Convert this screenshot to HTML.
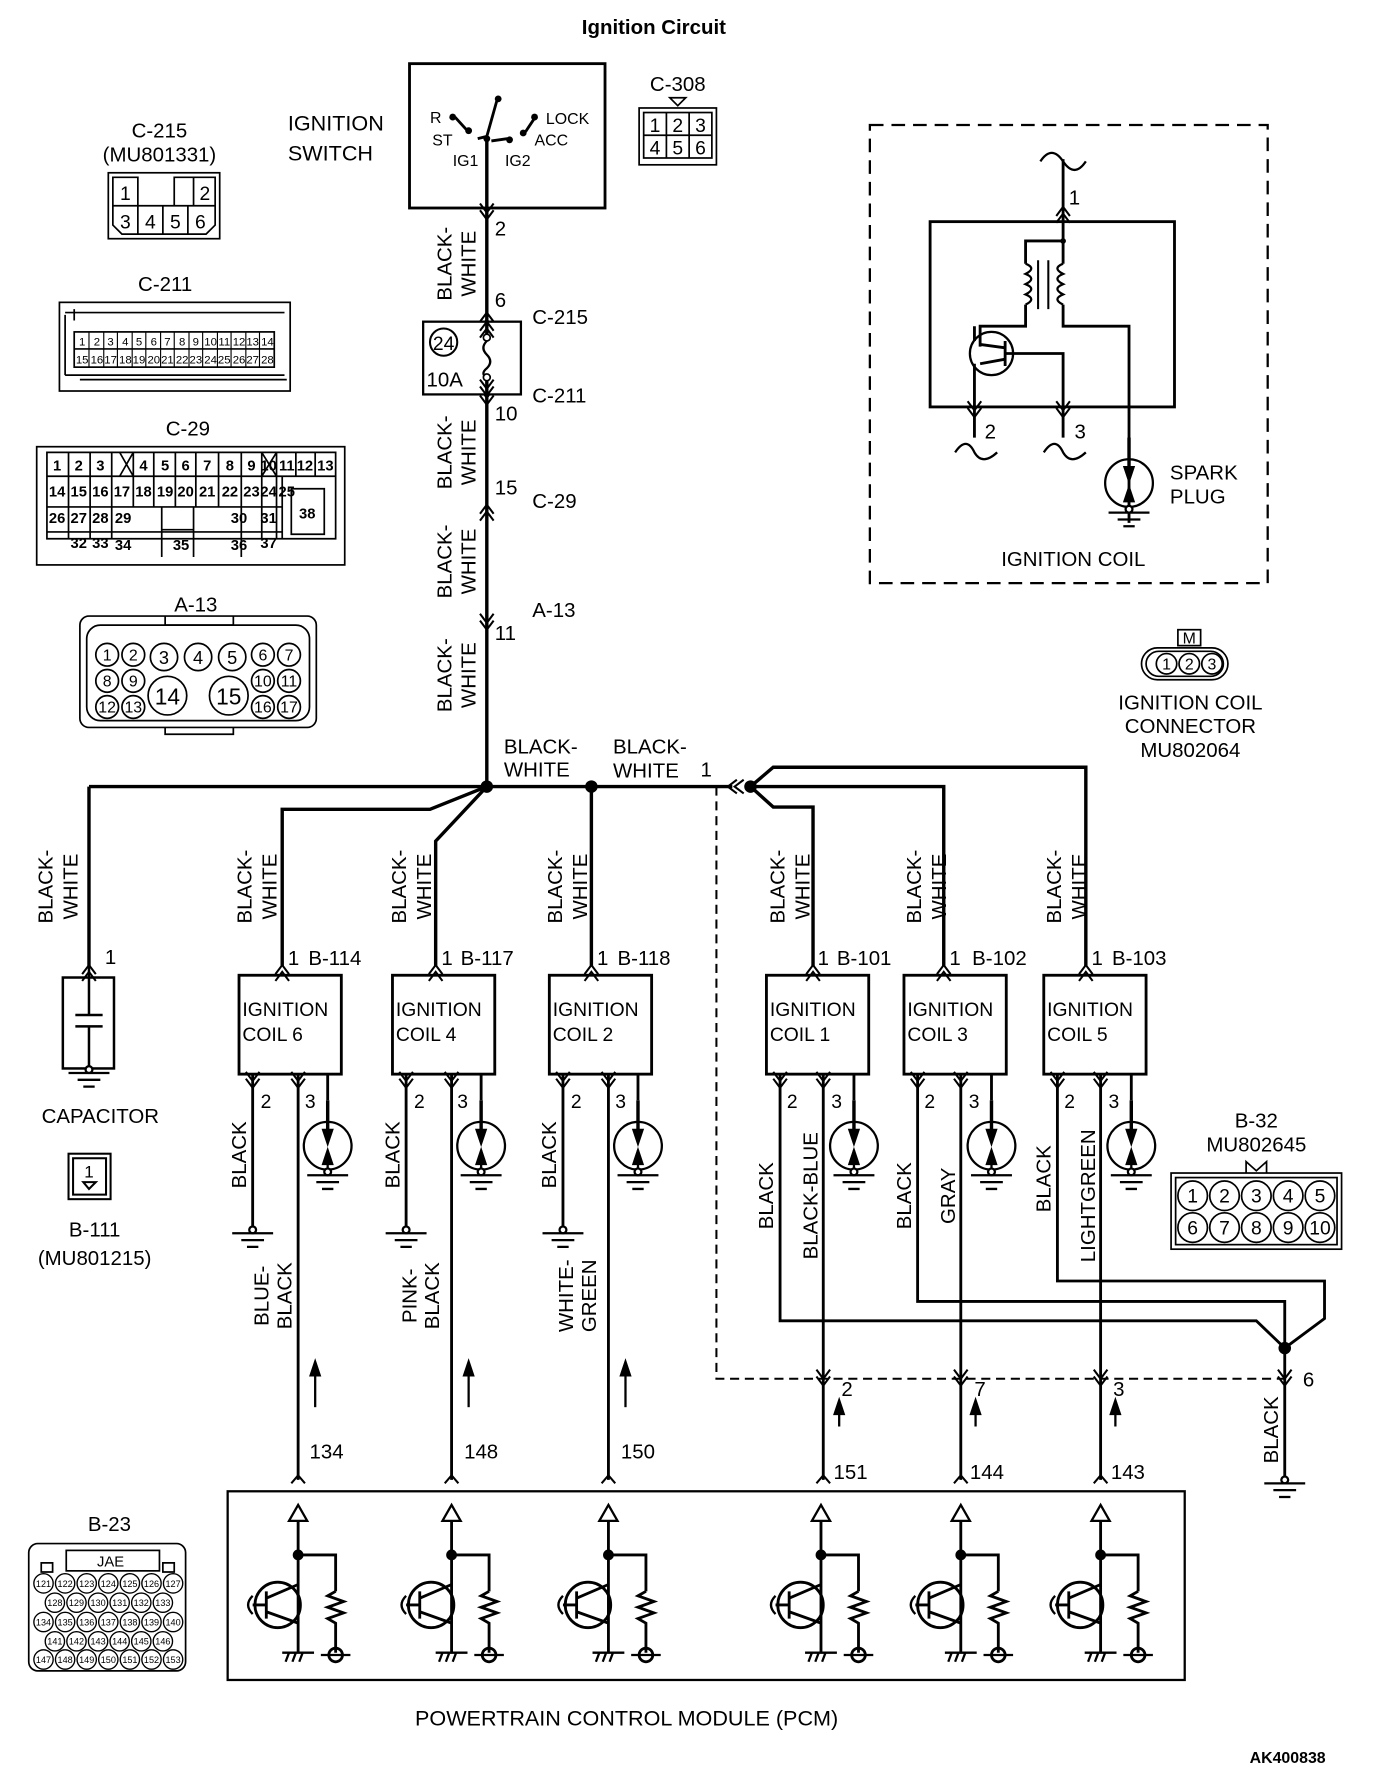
<!DOCTYPE html>
<html><head><meta charset="utf-8"><style>
html,body{margin:0;padding:0;background:#fff;}
svg{display:block;}
text{font-family:"Liberation Sans",sans-serif;fill:#000;}
</style></head><body>
<svg width="1376" height="1780" viewBox="0 0 1210 1566" xmlns="http://www.w3.org/2000/svg">
<defs>
<g id="sp" fill="none" stroke="#000" stroke-width="2">
<circle cx="0" cy="0" r="21"/>
<path d="M0,-40 V-5" stroke-width="3"/>
<path d="M-4,-14 L0,-2 L4,-14 Z" fill="#000"/>
<path d="M0,4 V20"/><path d="M-4,16 L0,4 L4,16 Z" fill="#000"/>
<circle cx="0" cy="23" r="3" fill="#fff"/>
<path d="M-18,26 H18 M-10,32 H10 M-5,38 H5"/>
</g>
<g id="tr" fill="none" stroke="#000" stroke-width="2.5">
<path d="M-8,14 L0,0 L8,14 Z" stroke-width="2"/>
<path d="M0,14 V130"/>
<circle cx="0" cy="44" r="3.5" fill="#000"/>
<path d="M0,44 H33 V76"/>
<path d="M33,76 l-7,4 l14,5 l-14,5 l14,5 l-14,5 l7,4 V130"/>
<circle cx="33" cy="132" r="6"/>
<path d="M20,132 H46" stroke-width="2"/>
<path d="M-14,130 H14 M-8,130 l-3,8 M-2,130 l-3,8 M4,130 l-3,8" stroke-width="2"/>
<circle cx="-18" cy="88" r="20"/>
<path d="M-28,76 V100 M-40,88 H-28 M-28,82 L0,70 M-28,94 L0,104"/>
<path d="M-40,80 q-8,8 0,16" stroke-width="2"/>
</g>
<g id="cv" fill="none" stroke="#000" stroke-width="1.8"><path d="M-6,-5 L0,3 L6,-5 M-6,1 L0,9 L6,1"/></g>
<g id="cu" fill="none" stroke="#000" stroke-width="1.8"><path d="M-6,5 L0,-3 L6,5 M-6,11 L0,3 L6,11"/></g>
<g id="gnd" fill="none" stroke="#000" stroke-width="2"><circle cx="0" cy="0" r="3" fill="#fff"/><path d="M-18,3 H18 M-10,9 H10 M-5,15 H5"/></g>
</defs>

<text x="575" y="30" font-size="18" font-weight="bold" text-anchor="middle">Ignition Circuit</text>

<!-- Ignition switch -->
<g fill="none" stroke="#000" stroke-width="2.5">
<rect x="360" y="56" width="172" height="127"/>
<path d="M428,120 V692" stroke-width="3"/>
<path d="M428,120 L437,88" stroke-width="2.5"/>
<path d="M400,103 L410,114 M420,122 L428,120 M432,124 L446,122 M470,104 L462,116" stroke-width="2.5"/>
</g>
<g fill="#000"><circle cx="438" cy="87" r="3"/><circle cx="398" cy="103" r="3"/><circle cx="412" cy="115" r="3"/><circle cx="428" cy="122" r="3"/><circle cx="448" cy="123" r="3"/><circle cx="460" cy="117" r="3"/><circle cx="470" cy="103" r="3"/></g>
<g font-size="14"><text x="378" y="108">R</text><text x="380" y="128">ST</text><text x="398" y="146">IG1</text><text x="444" y="146">IG2</text><text x="480" y="109">LOCK</text><text x="470" y="128">ACC</text></g>
<g font-size="19"><text x="253" y="115">IGNITION</text><text x="253" y="141">SWITCH</text></g>

<!-- C-308 -->
<text x="596" y="80" font-size="18" text-anchor="middle">C-308</text>
<path d="M589,86 H603 L596,93 Z" fill="none" stroke="#000" stroke-width="1.5"/>
<g fill="none" stroke="#000" stroke-width="1.5"><rect x="562" y="95" width="68" height="50"/><rect x="566" y="99" width="60" height="40"/><path d="M566,119 H626 M586,99 V139 M606,99 V139"/></g>
<g font-size="17" text-anchor="middle"><text x="576" y="116">1</text><text x="596" y="116">2</text><text x="616" y="116">3</text><text x="576" y="136">4</text><text x="596" y="136">5</text><text x="616" y="136">6</text></g>

<!-- C-215 connector -->
<g font-size="18" text-anchor="middle"><text x="140" y="121">C-215</text><text x="140" y="142">(MU801331)</text></g>
<g fill="none" stroke="#000" stroke-width="1.5"><rect x="95" y="152" width="98" height="58"/>
<path d="M99,156 H121 V181 H99 Z M153,156 H170 V181 H153 Z M170,156 H189 V181 H170 M99,181 V198 L107,206 H181 L189,198 V181 Z M121,181 V206 M143,181 V206 M165,181 V206"/></g>
<g font-size="17" text-anchor="middle"><text x="110" y="176">1</text><text x="180" y="176">2</text><text x="110" y="201">3</text><text x="132" y="201">4</text><text x="154" y="201">5</text><text x="176" y="201">6</text></g>

<!-- C-211 -->
<text x="145" y="256" font-size="18" text-anchor="middle">C-211</text>
<g fill="none" stroke="#000" stroke-width="1.5"><rect x="52" y="266" width="203" height="78"/>
<path d="M57,275 H250 M57,277 V330 M57,330 H250 M65,272 V282 M70,334 H252"/>
<rect x="65" y="292" width="176" height="31"/><path d="M65,307 H241"/></g>
<g font-size="10" text-anchor="middle">
<text x="72" y="304">1</text><text x="85" y="304">2</text><text x="97" y="304">3</text><text x="110" y="304">4</text><text x="122" y="304">5</text><text x="135" y="304">6</text><text x="147" y="304">7</text><text x="160" y="304">8</text><text x="172" y="304">9</text><text x="185" y="304">10</text><text x="197" y="304">11</text><text x="210" y="304">12</text><text x="222" y="304">13</text><text x="235" y="304">14</text>
<text x="72" y="320">15</text><text x="85" y="320">16</text><text x="97" y="320">17</text><text x="110" y="320">18</text><text x="122" y="320">19</text><text x="135" y="320">20</text><text x="147" y="320">21</text><text x="160" y="320">22</text><text x="172" y="320">23</text><text x="185" y="320">24</text><text x="197" y="320">25</text><text x="210" y="320">26</text><text x="222" y="320">27</text><text x="235" y="320">28</text></g>
<g stroke="#000" stroke-width="1"><path d="M78,292 V323 M91,292 V323 M103,292 V323 M116,292 V323 M128,292 V323 M141,292 V323 M153,292 V323 M166,292 V323 M178,292 V323 M191,292 V323 M203,292 V323 M216,292 V323 M228,292 V323"/></g>

<!-- C-29 -->
<text x="165" y="383" font-size="18" text-anchor="middle">C-29</text>
<g fill="none" stroke="#000" stroke-width="1.5"><rect x="32" y="393" width="271" height="104"/>
<path d="M41,398 H295 V474 H41 Z M41,419 H295 M41,446 H248 M41,468 H248 M60,398 V474 M79,398 V474 M98,398 V474 M105,398 L117,419 M117,398 L105,419 M230,398 L243,419 M243,398 L230,419 M117,398 V446 M135,398 V419 M154,398 V419 M172,398 V419 M192,398 V419 M212,398 V419 M230,398 V474 M243,398 V474 M260,398 V419 M277,398 V419 M135,419 V446 M154,419 V446 M172,419 V446 M192,419 V446 M212,419 V446 M142,446 V490 M170,446 V490 M212,446 V490 M142,466 H170 M248,419 V474 M256,430 H285 V470 H256 Z"/></g>
<g font-size="13" font-weight="bold" text-anchor="middle">
<text x="50" y="414">1</text><text x="69" y="414">2</text><text x="88" y="414">3</text><text x="126" y="414">4</text><text x="145" y="414">5</text><text x="163" y="414">6</text><text x="182" y="414">7</text><text x="202" y="414">8</text><text x="221" y="414">9</text><text x="236" y="414">10</text><text x="252" y="414">11</text><text x="268" y="414">12</text><text x="286" y="414">13</text>
<text x="50" y="437">14</text><text x="69" y="437">15</text><text x="88" y="437">16</text><text x="107" y="437">17</text><text x="126" y="437">18</text><text x="145" y="437">19</text><text x="163" y="437">20</text><text x="182" y="437">21</text><text x="202" y="437">22</text><text x="221" y="437">23</text><text x="236" y="437">24</text><text x="240" y="437"></text>
<text x="50" y="460">26</text><text x="69" y="460">27</text><text x="88" y="460">28</text><text x="108" y="460">29</text><text x="210" y="460">30</text><text x="236" y="460">31</text><text x="270" y="456">38</text>
<text x="69" y="482">32</text><text x="88" y="482">33</text><text x="108" y="484">34</text><text x="159" y="484">35</text><text x="210" y="484">36</text><text x="236" y="482">37</text></g>
<text x="252" y="437" font-size="13" font-weight="bold" text-anchor="middle">25</text>

<!-- A-13 -->
<text x="172" y="538" font-size="18" text-anchor="middle">A-13</text>
<g fill="none" stroke="#000" stroke-width="1.5"><rect x="70" y="542" width="208" height="98" rx="8"/><rect x="76" y="550" width="196" height="84" rx="12"/><path d="M145,542 V550 H205 V542 M145,640 V646 H205 V640"/>
<circle cx="94" cy="576" r="10"/><circle cx="117" cy="576" r="10"/><circle cx="144" cy="578" r="12"/><circle cx="174" cy="578" r="12"/><circle cx="204" cy="578" r="12"/><circle cx="231" cy="576" r="10"/><circle cx="254" cy="576" r="10"/>
<circle cx="94" cy="599" r="10"/><circle cx="117" cy="599" r="10"/><circle cx="231" cy="599" r="10"/><circle cx="254" cy="599" r="10"/>
<circle cx="94" cy="622" r="10"/><circle cx="117" cy="622" r="10"/><circle cx="147" cy="612" r="17"/><circle cx="201" cy="612" r="17"/><circle cx="231" cy="622" r="10"/><circle cx="254" cy="622" r="10"/></g>
<g font-size="14" text-anchor="middle"><text x="94" y="581">1</text><text x="117" y="581">2</text><text x="144" y="584" font-size="16">3</text><text x="174" y="584" font-size="16">4</text><text x="204" y="584" font-size="16">5</text><text x="231" y="581">6</text><text x="254" y="581">7</text><text x="94" y="604">8</text><text x="117" y="604">9</text><text x="231" y="604">10</text><text x="254" y="604">11</text><text x="94" y="627">12</text><text x="117" y="627">13</text><text x="147" y="620" font-size="20">14</text><text x="201" y="620" font-size="20">15</text><text x="231" y="627">16</text><text x="254" y="627">17</text></g>

<!-- main vertical wire labels -->
<g font-size="18" text-anchor="middle">
<text transform="translate(397,232) rotate(-90)">BLACK-</text><text transform="translate(418,232) rotate(-90)">WHITE</text>
<text transform="translate(397,398) rotate(-90)">BLACK-</text><text transform="translate(418,398) rotate(-90)">WHITE</text>
<text transform="translate(397,494) rotate(-90)">BLACK-</text><text transform="translate(418,494) rotate(-90)">WHITE</text>
<text transform="translate(397,594) rotate(-90)">BLACK-</text><text transform="translate(418,594) rotate(-90)">WHITE</text>
</g>
<g font-size="18"><text x="435" y="207">2</text><text x="435" y="270">6</text><text x="468" y="285">C-215</text><text x="468" y="354">C-211</text><text x="435" y="370">10</text><text x="435" y="435">15</text><text x="468" y="447">C-29</text><text x="468" y="543">A-13</text><text x="435" y="563">11</text></g>
<use href="#cv" x="428" y="184"/><use href="#cu" x="428" y="278"/><use href="#cv" x="428" y="347"/><use href="#cu" x="428" y="447"/><use href="#cv" x="428" y="545"/>
<!-- fuse box -->
<rect x="372" y="283" width="86" height="64" fill="#fff" stroke="#000" stroke-width="2"/>
<path d="M428,283 V296 M428,334 V347" stroke="#000" stroke-width="3"/>
<path d="M428,300 q-6,6 0,12 q6,6 0,12 q-6,5 0,8" fill="none" stroke="#000" stroke-width="2"/>
<circle cx="428" cy="297" r="3" fill="#fff" stroke="#000" stroke-width="1.5"/><circle cx="428" cy="332" r="3" fill="#fff" stroke="#000" stroke-width="1.5"/>
<circle cx="390" cy="301" r="12" fill="none" stroke="#000" stroke-width="1.8"/>
<text x="390" y="308" font-size="17" text-anchor="middle">24</text>
<text x="375" y="340" font-size="18">10A</text>
<use href="#cu" x="428" y="286"/><use href="#cv" x="428" y="339"/>

<!-- horizontal bus -->
<g fill="none" stroke="#000" stroke-width="3">
<path d="M78,692 H644"/>
<path d="M78,692 V850"/>
<path d="M428,692 L378,712 H248 V850"/>
<path d="M428,692 L383,740 V850"/>
<path d="M520,692 V850"/>
<path d="M660,692 L680,675 H955 V850"/>
<path d="M660,692 H830 V850"/>
<path d="M660,692 L680,710 H715 V850"/>
</g>
<path d="M654,686 L646,692 L654,698 M648,686 L640,692 L648,698" fill="none" stroke="#000" stroke-width="1.8"/>
<circle cx="428" cy="692" r="5.5" fill="#000"/><circle cx="520" cy="692" r="5.5" fill="#000"/><circle cx="660" cy="692" r="5.5" fill="#000"/>
<g font-size="18"><text x="443" y="663">BLACK-</text><text x="443" y="683">WHITE</text><text x="539" y="663">BLACK-</text><text x="539" y="684">WHITE</text><text x="616" y="683">1</text></g>
<path d="M630,692 V1213 H1130" fill="none" stroke="#000" stroke-width="1.8" stroke-dasharray="8,5"/>

<!-- branch labels -->
<g font-size="18" text-anchor="middle">
<text transform="translate(46,780) rotate(-90)">BLACK-</text><text transform="translate(68,780) rotate(-90)">WHITE</text>
<text transform="translate(221,780) rotate(-90)">BLACK-</text><text transform="translate(243,780) rotate(-90)">WHITE</text>
<text transform="translate(357,780) rotate(-90)">BLACK-</text><text transform="translate(379,780) rotate(-90)">WHITE</text>
<text transform="translate(494,780) rotate(-90)">BLACK-</text><text transform="translate(516,780) rotate(-90)">WHITE</text>
<text transform="translate(690,780) rotate(-90)">BLACK-</text><text transform="translate(712,780) rotate(-90)">WHITE</text>
<text transform="translate(810,780) rotate(-90)">BLACK-</text><text transform="translate(832,780) rotate(-90)">WHITE</text>
<text transform="translate(933,780) rotate(-90)">BLACK-</text><text transform="translate(955,780) rotate(-90)">WHITE</text>
</g>

<!-- capacitor -->
<g fill="none" stroke="#000" stroke-width="2.2"><rect x="55" y="860" width="45" height="80"/><path d="M78,850 V893 M78,903 V940 M66,893 H90 M66,903 H90"/></g>
<use href="#cu" x="78" y="852"/><use href="#gnd" x="78" y="941"/>
<text x="92" y="848" font-size="18">1</text>
<text x="88" y="988" font-size="18" text-anchor="middle">CAPACITOR</text>
<g fill="none" stroke="#000" stroke-width="1.8"><rect x="60" y="1015" width="37" height="40"/><rect x="64" y="1019" width="29" height="32"/><path d="M73,1040 H84 L78,1046 Z"/></g>
<text x="78" y="1036" font-size="15" text-anchor="middle">1</text>
<g font-size="18" text-anchor="middle"><text x="83" y="1088">B-111</text><text x="83" y="1113">(MU801215)</text></g>

<!-- coils -->
<g fill="none" stroke="#000" stroke-width="2.5">
<rect x="210" y="858" width="90" height="87"/><rect x="345" y="858" width="90" height="87"/><rect x="483" y="858" width="90" height="87"/>
<rect x="674" y="858" width="90" height="87"/><rect x="795" y="858" width="90" height="87"/><rect x="918" y="858" width="90" height="87"/>
<path d="M222,945 V1080 M262,945 V1302 M357,945 V1080 M397,945 V1302 M495,945 V1080 M535,945 V1302"/>
<path d="M686,945 V1162 H1105 L1130,1186 M724,945 V1302 M807,945 V1145 H1130 V1302 M845,945 V1302 M930,945 V1127 H1165 V1160 L1130,1186 M968,945 V1302"/>
</g>
<circle cx="1130" cy="1186" r="5.5" fill="#000"/>
<g><use href="#sp" x="288" y="1008"/><use href="#sp" x="423" y="1008"/><use href="#sp" x="561" y="1008"/><use href="#sp" x="751" y="1008"/><use href="#sp" x="872" y="1008"/><use href="#sp" x="995" y="1008"/></g>
<g fill="none" stroke="#000" stroke-width="2.5"><path d="M288,945 V968 M423,945 V968 M561,945 V968 M751,945 V968 M872,945 V968 M995,945 V968"/></g>
<use href="#gnd" x="222" y="1082"/><use href="#gnd" x="357" y="1082"/><use href="#gnd" x="495" y="1082"/>
<g>
<use href="#cu" x="248" y="852"/><use href="#cu" x="383" y="852"/><use href="#cu" x="520" y="852"/><use href="#cu" x="715" y="852"/><use href="#cu" x="830" y="852"/><use href="#cu" x="955" y="852"/>
<use href="#cv" x="222" y="948"/><use href="#cv" x="262" y="948"/><use href="#cv" x="357" y="948"/><use href="#cv" x="397" y="948"/><use href="#cv" x="495" y="948"/><use href="#cv" x="535" y="948"/>
<use href="#cv" x="686" y="948"/><use href="#cv" x="724" y="948"/><use href="#cv" x="807" y="948"/><use href="#cv" x="845" y="948"/><use href="#cv" x="930" y="948"/><use href="#cv" x="968" y="948"/>
<use href="#cv" x="724" y="1210"/><use href="#cv" x="845" y="1210"/><use href="#cv" x="968" y="1210"/><use href="#cv" x="1130" y="1210"/>
</g>
<g font-size="18">
<text x="253" y="849">1</text><text x="271" y="849">B-114</text>
<text x="388" y="849">1</text><text x="405" y="849">B-117</text>
<text x="525" y="849">1</text><text x="543" y="849">B-118</text>
<text x="719" y="849">1</text><text x="736" y="849">B-101</text>
<text x="835" y="849">1</text><text x="855" y="849">B-102</text>
<text x="960" y="849">1</text><text x="978" y="849">B-103</text>
</g>
<g font-size="17">
<text x="213" y="894">IGNITION</text><text x="213" y="916">COIL 6</text>
<text x="348" y="894">IGNITION</text><text x="348" y="916">COIL 4</text>
<text x="486" y="894">IGNITION</text><text x="486" y="916">COIL 2</text>
<text x="677" y="894">IGNITION</text><text x="677" y="916">COIL 1</text>
<text x="798" y="894">IGNITION</text><text x="798" y="916">COIL 3</text>
<text x="921" y="894">IGNITION</text><text x="921" y="916">COIL 5</text>
</g>
<g font-size="17">
<text x="229" y="975">2</text><text x="268" y="975">3</text><text x="364" y="975">2</text><text x="402" y="975">3</text><text x="502" y="975">2</text><text x="541" y="975">3</text>
<text x="692" y="975">2</text><text x="731" y="975">3</text><text x="813" y="975">2</text><text x="852" y="975">3</text><text x="936" y="975">2</text><text x="975" y="975">3</text>
</g>
<g font-size="18" text-anchor="middle">
<text transform="translate(216,1016) rotate(-90)">BLACK</text>
<text transform="translate(351,1016) rotate(-90)">BLACK</text>
<text transform="translate(489,1016) rotate(-90)">BLACK</text>
<text transform="translate(236,1140) rotate(-90)">BLUE-</text><text transform="translate(256,1140) rotate(-90)">BLACK</text>
<text transform="translate(366,1140) rotate(-90)">PINK-</text><text transform="translate(386,1140) rotate(-90)">BLACK</text>
<text transform="translate(504,1140) rotate(-90)">WHITE-</text><text transform="translate(524,1140) rotate(-90)">GREEN</text>
<text transform="translate(680,1052) rotate(-90)">BLACK</text>
<text transform="translate(719,1052) rotate(-90)">BLACK-BLUE</text>
<text transform="translate(801,1052) rotate(-90)">BLACK</text>
<text transform="translate(840,1052) rotate(-90)">GRAY</text>
<text transform="translate(924,1037) rotate(-90)">BLACK</text>
<text transform="translate(963,1052) rotate(-90)">LIGHTGREEN</text>
<text transform="translate(1124,1258) rotate(-90)">BLACK</text>
</g>
<use href="#gnd" x="1130" y="1302"/>
<g font-size="18"><text x="740" y="1228">2</text><text x="857" y="1228">7</text><text x="979" y="1228">3</text><text x="1146" y="1220">6</text>
<text x="272" y="1283">134</text><text x="408" y="1283">148</text><text x="546" y="1283">150</text>
<text x="733" y="1301">151</text><text x="853" y="1301">144</text><text x="977" y="1301">143</text></g>
<g stroke="#000" stroke-width="2" fill="#000">
<path d="M277,1238 V1205"/><path d="M273,1210 L277,1198 L281,1210 Z"/>
<path d="M412,1238 V1205"/><path d="M408,1210 L412,1198 L416,1210 Z"/>
<path d="M550,1238 V1205"/><path d="M546,1210 L550,1198 L554,1210 Z"/>
<path d="M738,1255 V1240"/><path d="M734,1244 L738,1232 L742,1244 Z"/>
<path d="M858,1255 V1240"/><path d="M854,1244 L858,1232 L862,1244 Z"/>
<path d="M981,1255 V1240"/><path d="M977,1244 L981,1232 L985,1244 Z"/>
</g>
<g fill="none" stroke="#000" stroke-width="1.8"><path d="M256,1305 L262,1298 L268,1305 M391,1305 L397,1298 L403,1305 M529,1305 L535,1298 L541,1305 M718,1305 L724,1298 L730,1305 M839,1305 L845,1298 L851,1305 M962,1305 L968,1298 L974,1305"/></g>

<!-- PCM -->
<rect x="200" y="1312" width="842" height="166" fill="none" stroke="#000" stroke-width="2"/>
<use href="#tr" x="262" y="1324"/><use href="#tr" x="397" y="1324"/><use href="#tr" x="535" y="1324"/><use href="#tr" x="722" y="1324"/><use href="#tr" x="845" y="1324"/><use href="#tr" x="968" y="1324"/>
<text x="551" y="1518" font-size="19" text-anchor="middle">POWERTRAIN CONTROL MODULE (PCM)</text>
<text x="1166" y="1551" font-size="14" font-weight="bold" text-anchor="end">AK400838</text>

<!-- B-23 -->
<text x="96" y="1347" font-size="18" text-anchor="middle">B-23</text>
<g fill="none" stroke="#000" stroke-width="1.5"><rect x="25" y="1358" width="138" height="112" rx="8"/><rect x="58" y="1364" width="82" height="18"/><path d="M36,1375 V1383 H46 V1375 Z M143,1375 V1383 H153 V1375 Z"/></g>
<text x="97" y="1378" font-size="13" text-anchor="middle">JAE</text>
<g fill="none" stroke="#000" stroke-width="1.2">
<circle cx="38" cy="1393" r="8.5"/><circle cx="57" cy="1393" r="8.5"/><circle cx="76" cy="1393" r="8.5"/><circle cx="95" cy="1393" r="8.5"/><circle cx="114" cy="1393" r="8.5"/><circle cx="133" cy="1393" r="8.5"/><circle cx="152" cy="1393" r="8.5"/>
<circle cx="48" cy="1410" r="8.5"/><circle cx="67" cy="1410" r="8.5"/><circle cx="86" cy="1410" r="8.5"/><circle cx="105" cy="1410" r="8.5"/><circle cx="124" cy="1410" r="8.5"/><circle cx="143" cy="1410" r="8.5"/>
<circle cx="38" cy="1427" r="8.5"/><circle cx="57" cy="1427" r="8.5"/><circle cx="76" cy="1427" r="8.5"/><circle cx="95" cy="1427" r="8.5"/><circle cx="114" cy="1427" r="8.5"/><circle cx="133" cy="1427" r="8.5"/><circle cx="152" cy="1427" r="8.5"/>
<circle cx="48" cy="1444" r="8.5"/><circle cx="67" cy="1444" r="8.5"/><circle cx="86" cy="1444" r="8.5"/><circle cx="105" cy="1444" r="8.5"/><circle cx="124" cy="1444" r="8.5"/><circle cx="143" cy="1444" r="8.5"/>
<circle cx="38" cy="1460" r="8.5"/><circle cx="57" cy="1460" r="8.5"/><circle cx="76" cy="1460" r="8.5"/><circle cx="95" cy="1460" r="8.5"/><circle cx="114" cy="1460" r="8.5"/><circle cx="133" cy="1460" r="8.5"/><circle cx="152" cy="1460" r="8.5"/>
</g>
<g font-size="8" text-anchor="middle">
<text x="38" y="1396">121</text><text x="57" y="1396">122</text><text x="76" y="1396">123</text><text x="95" y="1396">124</text><text x="114" y="1396">125</text><text x="133" y="1396">126</text><text x="152" y="1396">127</text>
<text x="48" y="1413">128</text><text x="67" y="1413">129</text><text x="86" y="1413">130</text><text x="105" y="1413">131</text><text x="124" y="1413">132</text><text x="143" y="1413">133</text>
<text x="38" y="1430">134</text><text x="57" y="1430">135</text><text x="76" y="1430">136</text><text x="95" y="1430">137</text><text x="114" y="1430">138</text><text x="133" y="1430">139</text><text x="152" y="1430">140</text>
<text x="48" y="1447">141</text><text x="67" y="1447">142</text><text x="86" y="1447">143</text><text x="105" y="1447">144</text><text x="124" y="1447">145</text><text x="143" y="1447">146</text>
<text x="38" y="1463">147</text><text x="57" y="1463">148</text><text x="76" y="1463">149</text><text x="95" y="1463">150</text><text x="114" y="1463">151</text><text x="133" y="1463">152</text><text x="152" y="1463">153</text>
</g>

<!-- Ignition coil detail -->
<rect x="765" y="110" width="350" height="403" fill="none" stroke="#000" stroke-width="2" stroke-dasharray="12,7"/>
<g fill="none" stroke="#000" stroke-width="2.5">
<rect x="818" y="195" width="215" height="163"/>
<path d="M915,142 q10,-15 20,0 q10,15 20,0" stroke-width="2"/>
<path d="M935,140 V212 M935,212 H902 V232 M935,212 V232 M902,268 V287 H862 V305 M935,268 V287 H993 V460"/>
<path d="M902,232 q10,4 0,9 q10,4 0,9 q10,4 0,9 q10,4 0,9 M935,232 q-10,4 0,9 q-10,4 0,9 q-10,4 0,9 q-10,4 0,9" stroke-width="2"/>
<path d="M913,229 V272 M922,229 V272" stroke-width="1.8"/>
<circle cx="872" cy="311" r="19" stroke-width="2"/>
<path d="M884,300 V322 M884,311 H935 V385 M862,303 L884,306 M862,320 L884,316 M857,320 V385 M857,300 V287"/>
<path d="M840,398 q10,-15 17,0 q7,12 20,0 M918,398 q10,-15 17,0 q7,12 20,0" stroke-width="2"/>
</g>
<circle cx="935" cy="212" r="2.5" fill="#000"/>
<use href="#cu" x="935" y="185"/><use href="#cv" x="857" y="358"/><use href="#cv" x="935" y="358"/>
<use href="#sp" x="993" y="425"/>
<g font-size="18"><text x="940" y="180">1</text><text x="866" y="386">2</text><text x="945" y="386">3</text><text x="1029" y="422">SPARK</text><text x="1029" y="443">PLUG</text></g>
<text x="944" y="498" font-size="18" text-anchor="middle">IGNITION COIL</text>

<!-- Ignition coil connector -->
<g fill="none" stroke="#000" stroke-width="1.5"><rect x="1036" y="554" width="20" height="14"/><rect x="1004" y="570" width="76" height="28" rx="14"/><rect x="1008" y="573" width="68" height="22" rx="11"/><circle cx="1026" cy="584" r="9"/><circle cx="1046" cy="584" r="9"/><circle cx="1066" cy="584" r="9"/></g>
<g font-size="14" text-anchor="middle"><text x="1046" y="566">M</text><text x="1026" y="589">1</text><text x="1046" y="589">2</text><text x="1066" y="589">3</text></g>
<g font-size="18" text-anchor="middle"><text x="1047" y="624">IGNITION COIL</text><text x="1047" y="645">CONNECTOR</text><text x="1047" y="666">MU802064</text></g>

<!-- B-32 -->
<g font-size="18" text-anchor="middle"><text x="1105" y="992">B-32</text><text x="1105" y="1013">MU802645</text></g>
<path d="M1096,1032 V1022 L1105,1030 L1114,1022 V1032" fill="none" stroke="#000" stroke-width="1.5"/>
<g fill="none" stroke="#000" stroke-width="1.5"><rect x="1030" y="1032" width="150" height="67"/><rect x="1034" y="1036" width="142" height="59"/>
<circle cx="1049" cy="1052" r="13"/><circle cx="1077" cy="1052" r="13"/><circle cx="1105" cy="1052" r="13"/><circle cx="1133" cy="1052" r="13"/><circle cx="1161" cy="1052" r="13"/>
<circle cx="1049" cy="1080" r="13"/><circle cx="1077" cy="1080" r="13"/><circle cx="1105" cy="1080" r="13"/><circle cx="1133" cy="1080" r="13"/><circle cx="1161" cy="1080" r="13"/></g>
<g font-size="17" text-anchor="middle"><text x="1049" y="1058">1</text><text x="1077" y="1058">2</text><text x="1105" y="1058">3</text><text x="1133" y="1058">4</text><text x="1161" y="1058">5</text>
<text x="1049" y="1086">6</text><text x="1077" y="1086">7</text><text x="1105" y="1086">8</text><text x="1133" y="1086">9</text><text x="1161" y="1086">10</text></g>
</svg>
</body></html>
